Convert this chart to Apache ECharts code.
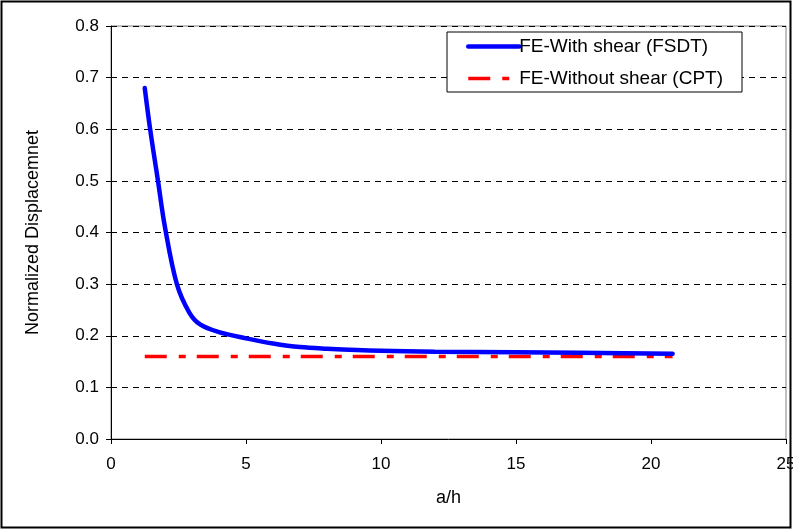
<!DOCTYPE html>
<html>
<head>
<meta charset="utf-8">
<script src="https://cdn.jsdelivr.net/npm/echarts@6/dist/echarts.min.js"></script>
<style>
  html, body { margin: 0; padding: 0; background: #fff; }
  #chart { width: 793px; height: 531px; }
</style>
</head>
<body>
<div id="chart"></div>
<script>
// a/h ratios and normalized displacement, first-order shear deformation (FSDT)
const ahFSDT = [1.25, 1.45, 1.74, 2.0, 2.44, 2.9, 3.3, 4.0, 5.0, 6.0, 7.0, 8.0, 10.0, 12.0, 15.0, 20.8];
const dispFSDT = [0.68, 0.60, 0.50, 0.41, 0.30, 0.245, 0.222, 0.207, 0.195, 0.185, 0.178, 0.175, 0.171, 0.169, 0.168, 0.165];
// classical plate theory (no shear) result
const ahCPT = [1.25, 20.8];
const dispCPT = [0.16, 0.16];

const seriesNames = ['FE-With shear (FSDT)', 'FE-Without shear (CPT)'];
const xTitle = 'a/h';
const yTitle = 'Normalized Displacemnet';

const font = 'Liberation Sans, Arial, sans-serif';
const chart = echarts.init(document.getElementById('chart'), null, { renderer: 'canvas' });

const blueLine = { color: '#0000ff', width: 4.5, cap: 'round' };
const redLine = { color: '#ff0000', width: 3.5, type: [22, 12, 7, 11] };

chart.setOption({
  animation: false,
  backgroundColor: '#fff',
  grid: {
    left: 111, right: 7, top: 26, bottom: 92,
    outerBoundsMode: 'none',
    show: true, borderColor: '#808080', borderWidth: 1
  },
  legend: {
    left: 447, top: 32,
    orient: 'vertical',
    padding: [5, 19, 4, 19],
    itemGap: 13,
    itemWidth: 51, itemHeight: 18,
    borderColor: '#000', borderWidth: 1,
    backgroundColor: '#fff',
    itemStyle: { opacity: 0 },
    textStyle: { fontFamily: font, fontSize: 19, color: '#000', padding: [0, 0, 0, -5] },
    data: [
      { name: seriesNames[0], lineStyle: { color: '#0000ff', width: 4.5, type: 'solid' } },
      { name: seriesNames[1], lineStyle: { color: '#ff0000', width: 3.5, type: [22, 12, 7, 11] } }
    ]
  },
  xAxis: {
    type: 'value', min: 0, max: 25, interval: 5,
    name: xTitle, nameLocation: 'middle', nameGap: 50,
    nameTextStyle: { fontFamily: font, fontSize: 18, color: '#000' },
    axisLine: { show: true, onZero: false, lineStyle: { color: '#000', width: 1 } },
    axisTick: { show: true, length: 5, lineStyle: { color: '#000' } },
    axisLabel: { fontFamily: font, fontSize: 17, color: '#000', margin: 17 },
    splitLine: { show: false }
  },
  yAxis: {
    type: 'value', min: 0, max: 0.8, interval: 0.1,
    name: yTitle, nameLocation: 'middle', nameGap: 69,
    nameTextStyle: { fontFamily: font, fontSize: 18, color: '#000' },
    axisLine: { show: true, lineStyle: { color: '#000', width: 1 } },
    axisTick: { show: true, length: 5, lineStyle: { color: '#000' } },
    axisLabel: { fontFamily: font, fontSize: 17, color: '#000', margin: 12,
      formatter: v => v.toFixed(1) },
    splitLine: { show: true, lineStyle: { color: '#000', width: 1, type: [6, 5] } }
  },
  series: [
    {
      name: seriesNames[0], type: 'line', smooth: 0.35, symbol: 'none',
      data: ahFSDT.map((x, i) => [x, dispFSDT[i]]),
      lineStyle: blueLine,
      itemStyle: { color: '#0000ff' }, z: 3
    },
    {
      name: seriesNames[1], type: 'line', symbol: 'none',
      data: ahCPT.map((x, i) => [x, dispCPT[i]]),
      lineStyle: redLine,
      itemStyle: { color: '#ff0000' }, z: 2
    }
  ],
  graphic: [
    { type: 'rect', shape: { x: 1.5, y: 1.5, width: 789, height: 526 },
      style: { fill: 'none', stroke: '#000', lineWidth: 2 }, silent: true, z: 100 }
  ]
});
</script>
</body>
</html>
